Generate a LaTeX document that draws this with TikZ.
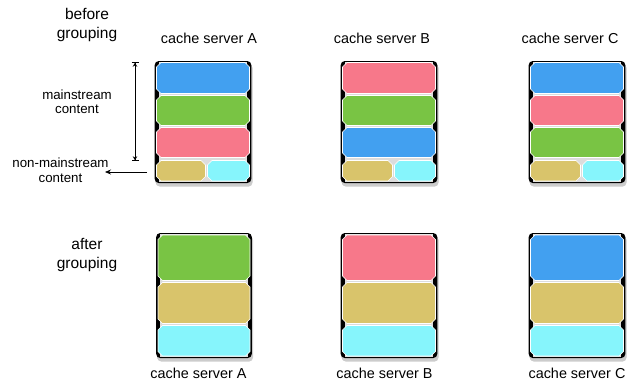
\documentclass[tikz,border=0pt]{standalone}
\usepackage{fontspec}
\setmainfont{Liberation Sans}
\usetikzlibrary{arrows.meta}

\definecolor{cblue}{HTML}{42A0F0}
\definecolor{cgreen}{HTML}{79C444}
\definecolor{cpink}{HTML}{F7788A}
\definecolor{cyellow}{HTML}{D9C46B}
\definecolor{ccyan}{HTML}{86F5FC}
\definecolor{cinner}{HTML}{DCDCDC}

% chamfered bar: left, top, right, bottom, colour
\newcommand\chambar[5]{%
  \fill[#5, draw=white, line width=0.6pt]
    ({#1+4.5},{#2}) -- ({#3-4.5},{#2}) -- ({#3},{#2+4.5}) -- ({#3},{#4-4.5})
    -- ({#3-4.5},{#4}) -- ({#1+4.5},{#4}) -- ({#1},{#4-4.5}) -- ({#1},{#2+4.5}) -- cycle;}

% server frame: left, top, right, bottom
\newcommand\srvframe[4]{%
  \fill[black!35, rounded corners=4pt] ({#1+0.8},{#2+2.5}) rectangle ({#3+0.8},{#4+2.8});
  \fill[black!20, rounded corners=4pt] ({#1+1.2},{#2+3}) rectangle ({#3+1.2},{#4+3.6});
  \fill[black, rounded corners=4pt] ({#1},{#2}) rectangle ({#3},{#4});
  \fill[cinner] ({#1+4.2},{#2+1.3}) rectangle ({#3-4.2},{#4-1.3});}

\tikzset{
  lbl/.style={font=\fontsize{14.4}{16}\selectfont, inner sep=0pt},
  headlbl/.style={font=\fontsize{15.5}{19.5}\selectfont, align=center, inner sep=0pt},
  sidelbl/.style={font=\fontsize{13.3}{14.5}\selectfont, align=center, inner sep=0pt},
  pointer/.style={line width=0.7pt, black},
}

\begin{document}
\begin{tikzpicture}[x=1pt, y=-1pt]
\useasboundingbox (0,0) rectangle (629,384);

% ---- before grouping ----
\srvframe{154.7}{61}{251.3}{183}
\chambar{156.5}{62.5}{249.5}{93.5}{cblue}
\chambar{156.5}{95.5}{249.5}{125.5}{cgreen}
\chambar{156.5}{127.5}{249.5}{157.5}{cpink}
\chambar{156.5}{160.5}{205.5}{181}{cyellow}
\chambar{207.5}{160.5}{249.5}{181}{ccyan}

\srvframe{340.7}{61}{437.3}{183}
\chambar{342.5}{62.5}{435.5}{93.5}{cpink}
\chambar{342.5}{95.5}{435.5}{125.5}{cgreen}
\chambar{342.5}{127.5}{435.5}{157.5}{cblue}
\chambar{342.5}{160.5}{392.5}{181}{cyellow}
\chambar{394.5}{160.5}{435.5}{181}{ccyan}

\srvframe{528.7}{61}{625.3}{183}
\chambar{530.5}{62.5}{623.5}{93.5}{cblue}
\chambar{530.5}{95.5}{623.5}{125.5}{cpink}
\chambar{530.5}{127.5}{623.5}{157.5}{cgreen}
\chambar{530.5}{160.5}{580.5}{181}{cyellow}
\chambar{582.5}{160.5}{623.5}{181}{ccyan}

% ---- after grouping ----
\srvframe{156.2}{233}{251.8}{358}
\chambar{158}{235}{250}{280.5}{cgreen}
\chambar{158}{282.5}{250}{323.5}{cyellow}
\chambar{158}{325.5}{250}{356}{ccyan}

\srvframe{340.7}{233}{437.3}{358}
\chambar{342.5}{235}{435.5}{280.5}{cpink}
\chambar{342.5}{282.5}{435.5}{323.5}{cyellow}
\chambar{342.5}{325.5}{435.5}{356}{ccyan}

\srvframe{528.7}{233}{625.3}{358}
\chambar{530.5}{235}{623.5}{280.5}{cblue}
\chambar{530.5}{282.5}{623.5}{323.5}{cyellow}
\chambar{530.5}{325.5}{623.5}{356}{ccyan}

% ---- labels ----
\node[headlbl] (before) at (87,25) {before\\grouping};
\node[headlbl] (after) at (87,255) {after\\grouping};
\node[sidelbl] (main) at (77,101.5) {mainstream\\content};
\node[sidelbl] (nonmain) at (60.5,170) {non-mainstream\\content};

\node[lbl] (ta) at (209,38) {cache server A};
\node[lbl] (tb) at (382,38) {cache server B};
\node[lbl] (tc) at (570,38) {cache server C};
\node[lbl] (ba) at (198.5,373) {cache server A};
\node[lbl] (bb) at (384.5,373) {cache server B};
\node[lbl] (bc) at (577,373) {cache server C};

% ---- extent markers ----
\coordinate (mtop) at (135,62);
\coordinate (mbot) at (135,161);
\draw[pointer, {Bar[width=7pt]Stealth[length=4pt,width=4.5pt]}-{Stealth[length=4pt,width=4.5pt]Bar[width=7pt]}] (mtop) -- (mbot);

\coordinate (nfrom) at (147,172);
\coordinate (nto) at (105,172);
\draw[pointer, -{Stealth[length=6pt,width=5pt]}] (nfrom) -- (nto);
\end{tikzpicture}
\end{document}
